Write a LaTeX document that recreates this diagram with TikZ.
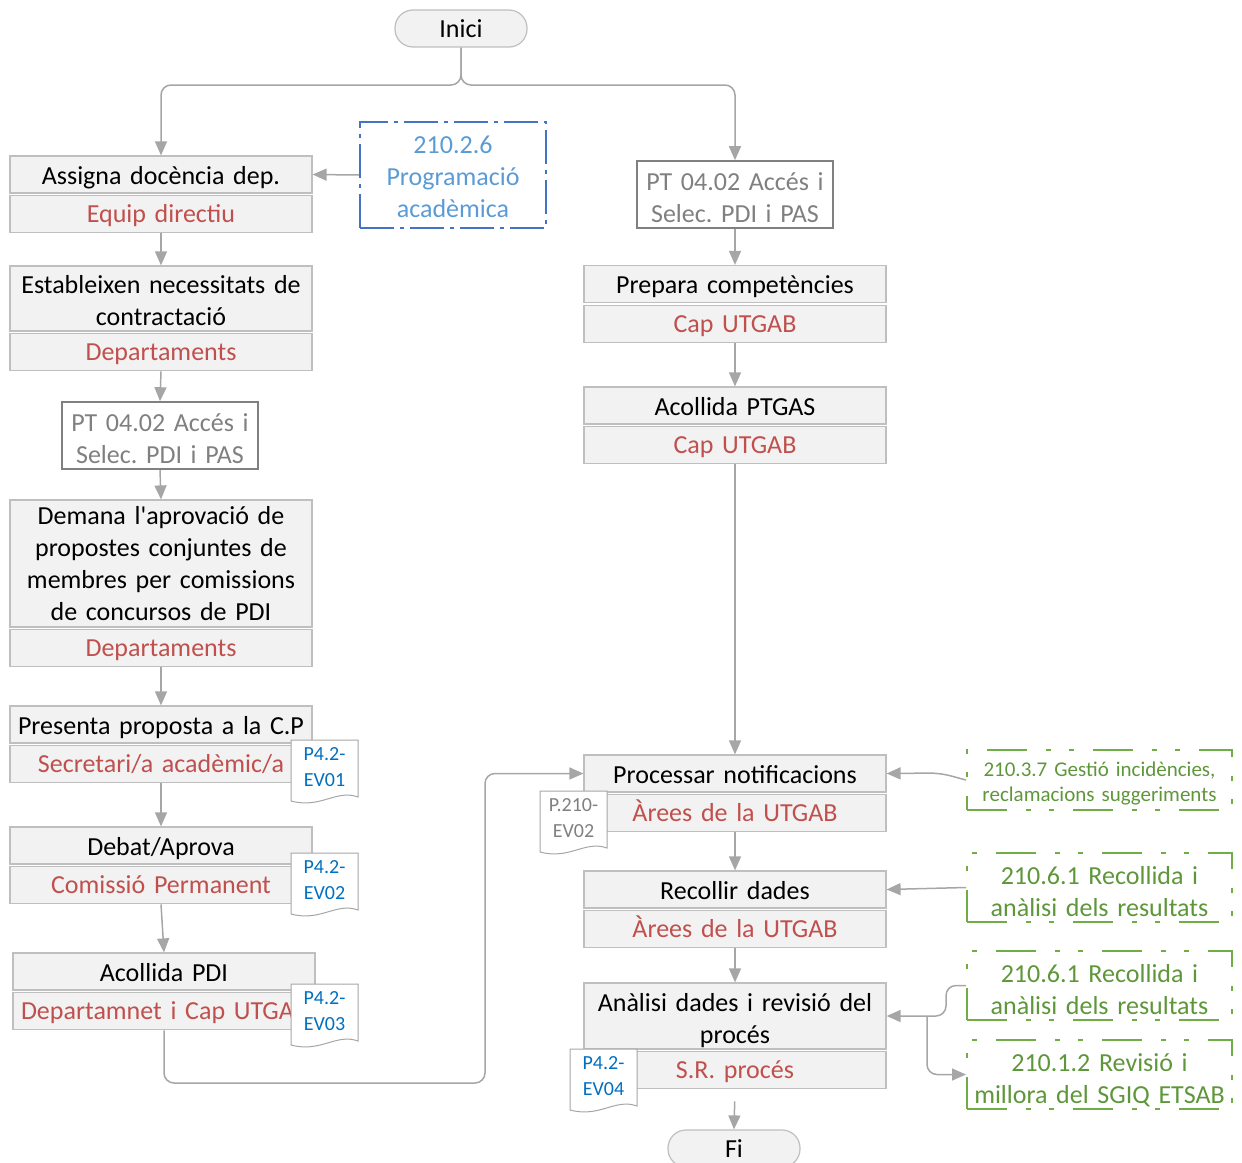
\documentclass[tikz,border=0pt]{standalone}
\usepackage{fontspec}
\setmainfont{Carlito}
\usepackage{xcolor}
\usepackage{tikz}
\usetikzlibrary{positioning}
\usetikzlibrary{arrows.meta}
\frenchspacing

\definecolor{boxfill}{HTML}{F2F2F2}
\definecolor{boxline}{HTML}{BFBFBF}
\definecolor{arrowgray}{HTML}{A6A6A6}
\definecolor{respred}{HTML}{C0504D}
\definecolor{ptgray}{HTML}{808080}
\definecolor{docgray}{HTML}{A6A6A6}
\definecolor{linkblue}{HTML}{5B9BD5}
\definecolor{frameblue}{HTML}{4472C4}
\definecolor{evblue}{HTML}{0070C0}
\definecolor{sgiqgreen}{HTML}{70AD47}
\definecolor{sgiqtext}{HTML}{5E963A}

\tikzset{
  task/.style={draw=boxline, fill=boxfill, line width=1.2pt, minimum width=302pt,
    minimum height=37pt, text width=290pt, align=center, inner sep=0pt,
    text height=25pt, text depth=6pt},
  resp/.style={task, text=respred, text height=23pt},
  ptlink/.style={draw=ptgray, line width=1.6pt, text=ptgray, fill=white, minimum width=196pt,
    minimum height=67pt, text width=186pt, align=center, inner sep=0pt,
    text height=29pt, text depth=38pt},
  terminal/.style={draw=boxline, fill=boxfill, line width=1.2pt, rounded corners=18pt,
    minimum width=132pt, minimum height=37pt, inner sep=0pt, text height=23pt, text depth=6pt},
  progbox/.style={draw=frameblue, line width=2pt, dash pattern=on 34pt off 6pt on 4pt off 6pt,
    text=linkblue, minimum width=186pt, minimum height=106pt, text width=176pt,
    align=center, inner sep=0pt, text height=26pt, text depth=70pt},
  sgiq/.style={draw=sgiqgreen, line width=2pt,
    dash pattern=on 40pt off 19pt on 5pt off 18pt on 5pt off 19pt, text=sgiqtext,
    minimum width=265pt, minimum height=67pt, text width=255pt, align=center, inner sep=0pt,
    text height=31pt, text depth=38pt},
  flow/.style={draw=arrowgray, line width=1.5pt, -{Triangle[length=14pt,width=12pt]},
    rounded corners=10pt},
  docline/.style={draw=docgray, fill=white, line width=1pt},
  doctext/.style={font=\fontsize{20}{26}\selectfont, text width=60pt, align=center, inner sep=0pt},
}

% evidence document: name, x, y (top left), text, colour
\newcommand{\evdoc}[5]{%
  \draw[docline] (#2,#3) -- ++(67,0) -- ++(0,57)
    .. controls +(-22,-8) and +(30,8) .. ++(-67,4) -- cycle;
  \node[doctext, text=#5] (#1) at (#2+33.5,#3+27.5) {#4};
}

\begin{document}
\begin{tikzpicture}[x=1pt, y=-1pt, font=\fontsize{26}{32}\selectfont]
  \useasboundingbox (0,0) rectangle (1242,1162);

  \node[terminal] (inici) at (461,28.5) {Inici};

  % left column
  \node[task] (assigna) at (161,174.5) {Assigna docència dep.};
  \node[resp, below=1.5pt of assigna] (assigna-r) {Equip directiu};
  \node[progbox] (prog) at (453,175) {210.2.6\\Programació\\acadèmica};

  \node[task, minimum height=65pt, text height=27pt, text depth=38pt] (establ) at (161,298.5)
    {Estableixen necessitats de\\contractació};
  \node[resp, below=1.5pt of establ] (establ-r) {Departaments};

  \node[ptlink] (ptl) at (160,435.5) {PT 04.02 Accés i\\Selec. PDI i PAS};

  \node[task, minimum height=127pt, text height=23pt, text depth=102pt] (demana) at (161,563.5)
    {Demana l\textquotesingle aprovació de\\propostes conjuntes de\\membres per comissions\\de concursos de PDI};
  \node[resp, below=1.5pt of demana] (demana-r) {Departaments};

  \node[task] (presenta) at (161,724.5) {Presenta proposta a la C.P};
  \node[resp, below=1.5pt of presenta] (presenta-r) {Secretari/a acadèmic/a};

  \node[task] (debat) at (161,845.5) {Debat/Aprova};
  \node[resp, below=1.5pt of debat] (debat-r) {Comissió Permanent};

  \node[task] (acollpdi) at (164,971.5) {Acollida PDI};
  \node[resp, below=1.5pt of acollpdi, text width=286pt, inner xsep=8pt, align=left]
    (acollpdi-r) {Departamnet i Cap UTGA};

  % right column
  \node[ptlink] (ptr) at (735,194.5) {PT 04.02 Accés i\\Selec. PDI i PAS};

  \node[task] (prepara) at (735,284) {Prepara competències};
  \node[resp, below=1.5pt of prepara] (prepara-r) {Cap UTGAB};

  \node[task] (acollptgas) at (735,405.5) {Acollida PTGAS};
  \node[resp, below=1.5pt of acollptgas] (acollptgas-r) {Cap UTGAB};

  \node[task] (processar) at (735,773.5) {Processar notificacions};
  \node[resp, below=1.5pt of processar] (processar-r) {Àrees de la UTGAB};

  \node[task] (recollir) at (735,889.5) {Recollir dades};
  \node[resp, below=1.5pt of recollir] (recollir-r) {Àrees de la UTGAB};

  \node[task, minimum height=64pt, text height=28pt, text depth=38pt] (analisi) at (735,1016)
    {Anàlisi dades i revisió del\\procés};
  \node[resp, below=1.5pt of analisi] (analisi-r) {S.R. procés};

  \node[terminal] (fi) at (734,1148.5) {Fi};

  % SGIQ references
  \node[sgiq, minimum height=60pt, font=\fontsize{21}{25}\selectfont,
    text height=23.5pt, text depth=30pt] (g1) at (1099.5,780)
    {210.3.7 Gestió incidències,\\reclamacions suggeriments};
  \node[sgiq] (g2) at (1099.5,887.5) {210.6.1 Recollida i\\anàlisi dels resultats};
  \node[sgiq] (g3) at (1099.5,985.5) {210.6.1 Recollida i\\anàlisi dels resultats};
  \node[sgiq] (g4) at (1099.5,1074.5) {210.1.2 Revisió i\\millora del SGIQ ETSAB};

  % connectors
  \coordinate (fork) at (461,85);
  \draw[flow] (inici.south) -- (fork) -| (assigna.north);
  \draw[flow] (inici.south) -- (fork) -| (ptr.north);
  \draw[flow] (prog.west) -- (assigna.east);
  \draw[flow] (assigna-r.south) -- (establ.north);
  \draw[flow] (establ-r.south) -- (ptl.north);
  \draw[flow] (ptl.south) -- (demana.north);
  \draw[flow] (demana-r.south) -- (presenta.north);
  \draw[flow] (presenta-r.south) -- (debat.north);
  \draw[flow] (debat-r.south) -- (acollpdi.north);
  \coordinate (detour) at (485,1083);
  \draw[flow] (acollpdi-r.south) |- (detour) |- (processar.west);

  \draw[flow] (ptr.south) -- (prepara.north);
  \draw[flow] (prepara-r.south) -- (acollptgas.north);
  \draw[flow] (acollptgas-r.south) -- (processar.north);
  \draw[flow] (processar-r.south) -- (recollir.north);
  \draw[flow] (recollir-r.south) -- (analisi.north);
  \draw[flow, shorten <=12pt] (analisi-r.south) -- (fi.north);

  \coordinate (g1bend) at (940,773);
  \draw[flow] (g1.west) -- (g1bend) -- (processar.east);
  \draw[flow] (g2.west) -- (recollir.east);
  \draw[flow] (g3.west) -- ++(-20,0) |- (analisi.east);
  \coordinate (split) at (927,1016);
  \draw[flow] (split) |- (g4.west);

  % evidences
  \evdoc{ev01}{291}{740}{P4.2-\\EV01}{evblue}
  \evdoc{ev02}{291}{853}{P4.2-\\EV02}{evblue}
  \evdoc{ev03}{291}{984}{P4.2-\\EV03}{evblue}
  \evdoc{p210}{540}{791}{P.210-\\EV02}{ptgray}
  \evdoc{ev04}{570}{1049}{P4.2-\\EV04}{evblue}
\end{tikzpicture}
\end{document}
